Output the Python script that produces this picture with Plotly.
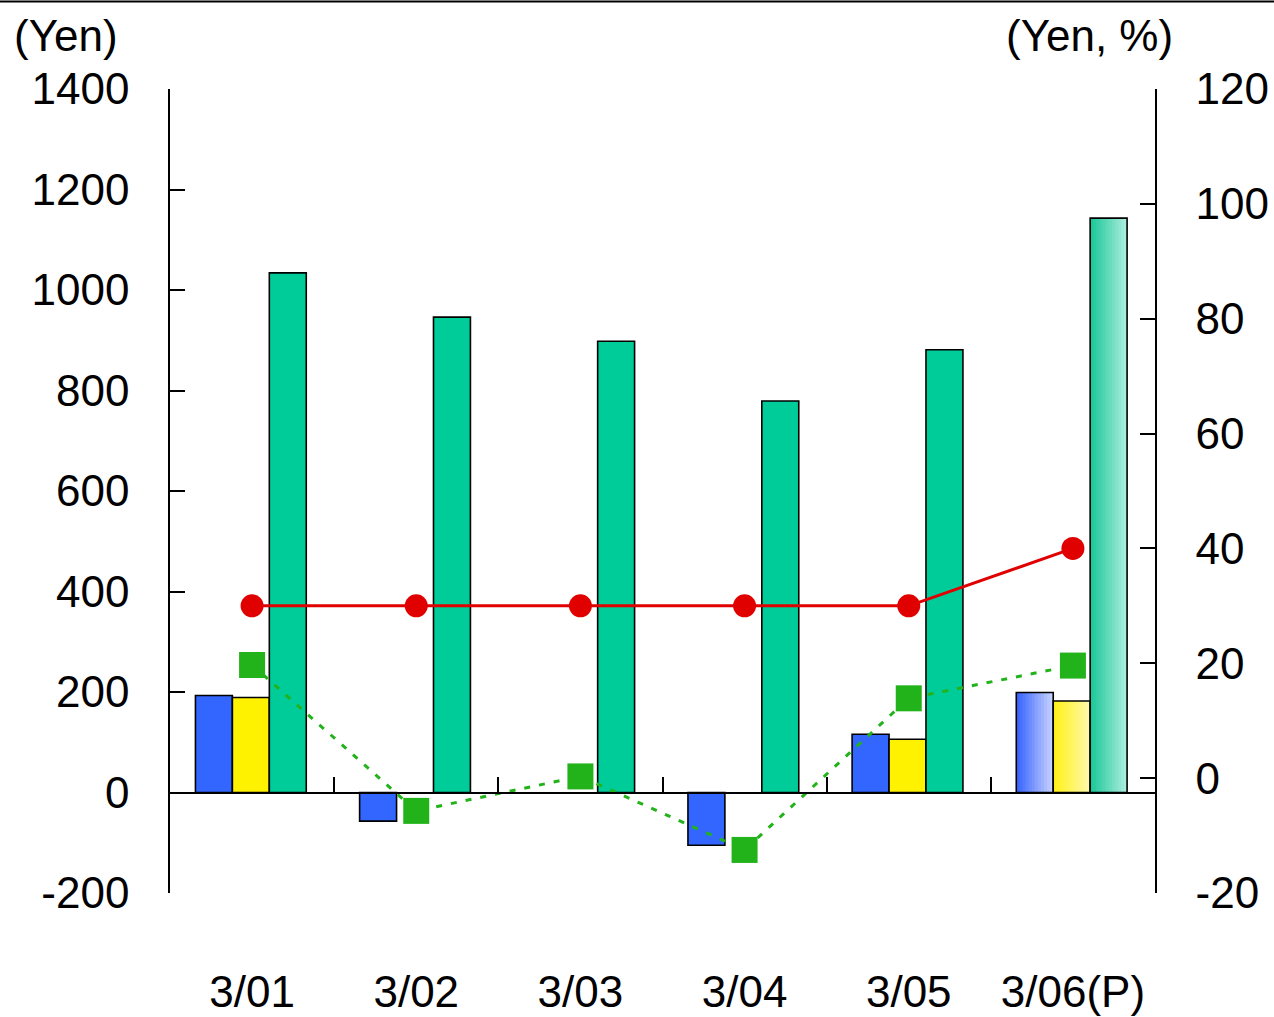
import plotly.graph_objects as go

# ---- data ----
categories = ["3/01", "3/02", "3/03", "3/04", "3/05", "3/06(P)"]
blue_vals = [193, -57, None, -105, 116, 199]      # Yen (left axis)
yellow_vals = [189, None, None, None, 106, 182]   # Yen (left axis)
green_vals = [1034, 946, 898, 779, 881, 1143]     # Yen (left axis)
red_vals = [30, 30, 30, 30, 30, 40]               # Yen (right axis)
sq_vals = [19.7, -5.7, 0.3, -12.5, 13.9, 19.6]    # % (right axis)
left_ticks = [-200, 0, 200, 400, 600, 800, 1000, 1200, 1400]
left_text = ["-200", "0", "200", "400", "600", "800", "1000", "1200", "1400"]
right_ticks = [-20, 0, 20, 40, 60, 80, 100, 120]
right_text = ["-20", "0", "20", "40", "60", "80", "100", "120"]

FONT = "Liberation Sans, Arial, sans-serif"
FS = 44
xs = list(range(len(categories)))
n_act = len(categories) - 1  # last one is the forecast with gradient fill

BW = 0.225
series = [
    (blue_vals, -0.345, "#3366ff", ((58, 102, 255), (196, 208, 255))),
    (yellow_vals, -0.12, "#fff200", ((255, 242, 26), (255, 248, 168))),
    (green_vals, 0.105, "#00cc99", ((30, 200, 154), (168, 236, 220))),
]

fig = go.Figure()

for vals, off, col, grad in series:
    # actual years
    fig.add_trace(go.Bar(
        x=xs[:n_act], y=vals[:n_act], width=BW, offset=off,
        marker=dict(color=col, line=dict(color="black", width=1.6)),
        showlegend=False, hoverinfo="skip"))
    # forecast: gradient slices
    N = 12
    step = BW / N
    for i in range(N):
        t = i / (N - 1)
        c = tuple(round(grad[0][k] + (grad[1][k] - grad[0][k]) * t) for k in range(3))
        fig.add_trace(go.Bar(
            x=[xs[-1]], y=[vals[-1]], width=min(step * 1.7, BW - i * step),
            offset=off + i * step,
            marker=dict(color="rgb(%d,%d,%d)" % c, line=dict(width=0)),
            showlegend=False, hoverinfo="skip"))
    fig.add_trace(go.Bar(
        x=[xs[-1]], y=[vals[-1]], width=BW, offset=off,
        marker=dict(color="rgba(0,0,0,0)", line=dict(color="black", width=1.6)),
        showlegend=False, hoverinfo="skip"))

fig.add_trace(go.Scatter(
    x=xs, y=sq_vals, yaxis="y2", mode="lines+markers",
    line=dict(color="#22b21a", width=3, dash="6px,9px"),
    marker=dict(symbol="square", size=26, color="#22b21a"),
    showlegend=False, hoverinfo="skip"))
fig.add_trace(go.Scatter(
    x=xs, y=red_vals, yaxis="y2", mode="lines+markers",
    line=dict(color="#e00000", width=3),
    marker=dict(symbol="circle", size=23, color="#e00000"),
    showlegend=False, hoverinfo="skip"))
# helper trace so the zero-line axis (x2) is drawn
fig.add_trace(go.Scatter(x=[0], y=[0], xaxis="x2", mode="markers",
                         marker=dict(opacity=0), showlegend=False, hoverinfo="skip"))

fig.update_layout(
    width=1274, height=1017,
    margin=dict(l=170, r=119, t=89, b=124, pad=0, autoexpand=False),
    paper_bgcolor="white", plot_bgcolor="white",
    barmode="overlay",
    font=dict(family=FONT, size=FS, color="black"),
    xaxis=dict(range=[-0.5, 5.5], tickvals=xs, ticktext=categories,
               ticks="", showline=False, showgrid=False, zeroline=False,
               anchor="free", position=0, ticklabelstandoff=69, automargin=False,
               tickfont=dict(family=FONT, size=FS, color="black")),
    xaxis2=dict(range=[-0.5, 5.5], overlaying="x", anchor="free", position=0.125,
                tickvals=[0.5, 1.5, 2.5, 3.5, 4.5], ticks="inside", ticklen=15,
                tickwidth=1.5, tickcolor="black", showticklabels=False,
                showline=True, linecolor="black", linewidth=1.5, automargin=False,
                showgrid=False, zeroline=False),
    yaxis=dict(range=[-200, 1400], tickvals=left_ticks, ticktext=left_text,
               ticks="inside", ticklen=15,
               tickwidth=1.5, tickcolor="black", showline=True, linecolor="black",
               linewidth=1.5, showgrid=False, zeroline=False, ticklabelstandoff=30,
               automargin=False,
               tickfont=dict(family=FONT, size=FS, color="black")),
    yaxis2=dict(range=[-20, 120], tickvals=right_ticks, ticktext=right_text,
                overlaying="y", side="right",
                ticks="inside", ticklen=15, tickwidth=1.5, tickcolor="black",
                showline=True, linecolor="black", linewidth=1.5, showgrid=False,
                zeroline=False, ticklabelstandoff=30, automargin=False,
                tickfont=dict(family=FONT, size=FS, color="black")),
    annotations=[
        dict(text="(Yen)", xref="paper", yref="paper", x=-0.1604, y=1.067,
             xanchor="left", yanchor="middle", showarrow=False,
             font=dict(family=FONT, size=FS, color="black")),
        dict(text="(Yen, %)", xref="paper", yref="paper", x=1.0203, y=1.067,
             xanchor="right", yanchor="middle", showarrow=False,
             font=dict(family=FONT, size=FS, color="black")),
    ],
    shapes=[
        dict(type="line", xref="paper", yref="paper", x0=-0.2, x1=1.2,
             y0=1.1088, y1=1.1088, line=dict(color="black", width=2)),
    ],
)

fig.write_html("out.html", config={"displayModeBar": False},
               post_script="document.body.style.margin='0';")
